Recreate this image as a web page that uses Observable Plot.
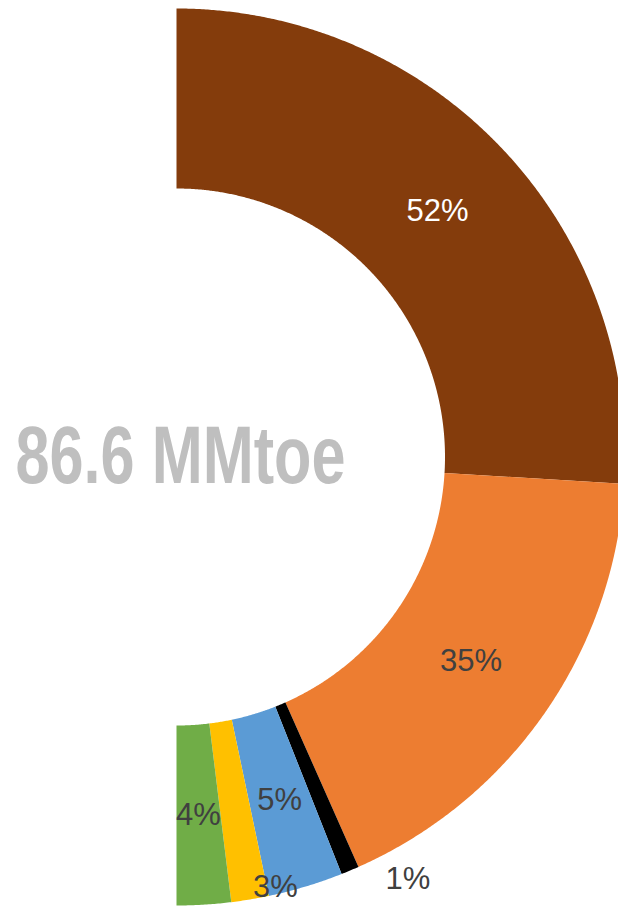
<!DOCTYPE html>
<html>
<head>
<meta charset="utf-8">
<script src="https://cdn.jsdelivr.net/npm/d3@7"></script>
<script src="https://cdn.jsdelivr.net/npm/@observablehq/plot@0.6"></script>
<style>
  html, body { margin: 0; padding: 0; background: #fff; }
  #chart svg { display: block; }
</style>
</head>
<body>
<div id="chart"></div>
<script>
// ---- data ----
const categories = ["Segment A", "Segment B", "Segment C", "Segment D", "Segment E", "Segment F"];
const shares = [51.9, 34.8, 1.3, 5.4, 2.7, 3.9];          // percent of total
const shareLabels = ["52%", "35%", "1%", "5%", "3%", "4%"];
const totalLabel = "86.6 MMtoe";

// ---- style / layout ----
const colors = ["#843C0C", "#ED7D31", "#000000", "#5B9BD5", "#FFC000", "#70AD47"];
const labelColors = ["#FFFFFF", "#404040", "#404040", "#404040", "#404040", "#404040"];
const R_OUT = 448.5, R_IN = 268.5;
// label placement (radius, angle shift in degrees) - default mid ring / mid angle
const labelPlacement = [null, null, {r: 481, shift: -6}, null, {r: 441, shift: -3.5}, null];

const total = d3.sum(shares);
let cum = 0;
const segs = shares.map((v, i) => {
  const a0 = cum / total * 180;
  cum += v;
  const a1 = cum / total * 180;
  return {name: categories[i], value: v, a0, a1, color: colors[i], label: shareLabels[i], labelColor: labelColors[i], i};
});

const rad = a => a * Math.PI / 180;
const polar = (r, a) => [r * Math.sin(rad(a)), r * Math.cos(rad(a))];

// polygon points for each half-ring slice
const pts = [];
for (const s of segs) {
  const n = Math.max(4, Math.ceil((s.a1 - s.a0) * 4));
  for (let k = 0; k <= n; k++) {
    const a = s.a0 + (s.a1 - s.a0) * k / n;
    const [x, y] = polar(R_OUT, a);
    pts.push({name: s.name, color: s.color, x, y});
  }
  for (let k = n; k >= 0; k--) {
    const a = s.a0 + (s.a1 - s.a0) * k / n;
    const [x, y] = polar(R_IN, a);
    pts.push({name: s.name, color: s.color, x, y});
  }
}

const labels = segs.map(s => {
  const p = labelPlacement[s.i];
  const r = p ? p.r : (R_OUT + R_IN) / 2;
  const a = (s.a0 + s.a1) / 2 + (p ? p.shift : 0);
  const [x, y] = polar(r, a);
  return {x, y, text: s.label, color: s.labelColor};
});

const plot = Plot.plot({
  width: 618,
  height: 907,
  marginLeft: 176, marginRight: 0, marginTop: 0, marginBottom: 0,
  x: {domain: [0, 442], axis: null},
  y: {domain: [-450.5, 456.5], axis: null},
  color: {type: "identity"},
  style: {fontFamily: "'Liberation Sans', Arial, sans-serif", background: "#fff"},
  marks: [
    Plot.line(pts, {x: "x", y: "y", z: "name", fill: "color", stroke: "none", curve: "linear"}),
    Plot.text(labels, {x: "x", y: "y", text: "text", fill: "color", fontSize: 31, lineAnchor: "middle", clip: "frame"}),
    Plot.text([totalLabel], {x: () => 4, y: () => -25.5, text: d => d, fill: "#BFBFBF", fontSize: 81, fontWeight: "bold", lineAnchor: "bottom", className: "total-label"})
  ]
});

document.getElementById("chart").appendChild(plot);
// narrow the centre title to the reference's condensed width
d3.select(plot).selectAll(".total-label text").attr("textLength", 330).attr("lengthAdjust", "spacingAndGlyphs");
</script>
</body>
</html>
